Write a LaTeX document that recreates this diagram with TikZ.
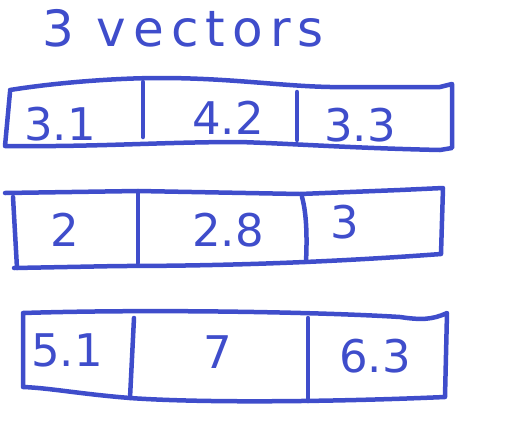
\documentclass[tikz,border=0pt]{standalone}
\usepackage{fontspec}
\setmainfont{DejaVu Sans}
\definecolor{ink}{HTML}{3F4DCB}
\begin{document}
\begin{tikzpicture}[x=1pt,y=-1pt,
  pen/.style={draw=ink,line width=4.5pt,line cap=round,line join=round},
  num/.style={text=ink,font=\fontsize{45}{45}\selectfont,inner sep=0pt},
  ttl/.style={text=ink,font=\fontsize{50}{50}\selectfont\addfontfeatures{LetterSpace=14},inner sep=0pt}]
\useasboundingbox (0,0) rectangle (520,432);
% title
\node[ttl] (title) at (183,28) {3 vectors};
% row 1
\draw[pen] (10,90) .. controls (60,82) and (120,78) .. (160,78) .. controls (230,78) and (280,86) .. (330,87) -- (440,87) -- (452,84) -- (452,148) -- (440,150) .. controls (350,148) and (300,144) .. (240,142) .. controls (160,142) and (100,147) .. (5,146) -- (10,92);
\draw[pen] (143,82) -- (143,137);
\draw[pen] (297,92) -- (297,140);
\node[num] (a1) at (60,124) {3.1};
\node[num] (a2) at (228,118) {4.2};
\node[num] (a3) at (360,125) {3.3};
% row 2
\draw[pen] (5,193) -- (138,191) -- (300,194) -- (400,190) -- (443,188) -- (441,254) .. controls (360,260) and (250,266) .. (120,266) -- (14,268);
\draw[pen] (13,197) -- (17,268);
\draw[pen] (138,191) -- (138,263);
\draw[pen] (302,197) .. controls (307,215) and (307,240) .. (306,262);
\node[num] (b1) at (65,230) {2};
\node[num] (b2) at (228,230) {2.8};
\node[num] (b3) at (345,222) {3};
% row 3
\draw[pen] (23,313) .. controls (150,309) and (320,312) .. (400,317) .. controls (420,320) and (432,320) .. (447,313) -- (445,397) .. controls (330,402) and (200,403) .. (130,398) .. controls (80,394) and (50,388) .. (23,387) -- (23,313);
\draw[pen] (134,318) -- (130,398);
\draw[pen] (308,318) -- (308,401);
\node[num] (c1) at (67,350) {5.1};
\node[num] (c2) at (218,352) {7};
\node[num] (c3) at (375,356) {6.3};
\end{tikzpicture}
\end{document}
